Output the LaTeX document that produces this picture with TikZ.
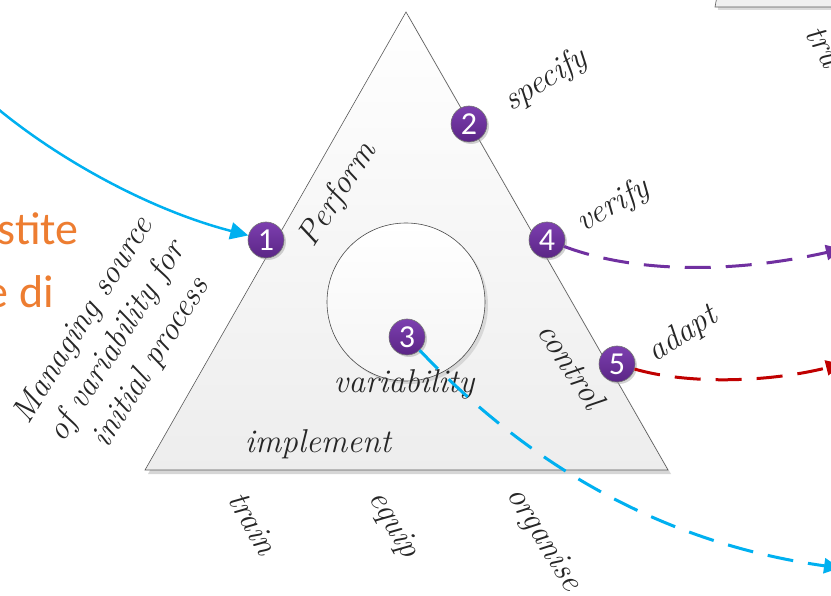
\documentclass[tikz,border=0pt]{standalone}
\usepackage{fontspec}
\newfontfamily\calfont{Carlito}
\usetikzlibrary{arrows.meta,shadows}
\definecolor{cblue}{HTML}{00B0F0}
\definecolor{cpurple}{HTML}{7030A0}
\definecolor{cred}{HTML}{C00000}
\definecolor{corange}{HTML}{ED7D31}
\definecolor{numtop}{HTML}{7D3FB0}
\definecolor{numbot}{HTML}{5A2585}
\begin{document}
\begin{tikzpicture}[x=1pt,y=-1pt,
  hand/.style={font=\fontsize{33}{40}\selectfont\itshape, inner sep=0pt, text=black!85},
  numbox/.style={circle, minimum size=36pt, inner sep=0pt, draw=black!55, line width=0.6pt,
     top color=numtop, bottom color=numbot, text=white,
     font=\calfont\fontsize{32}{32}\selectfont,
     drop shadow={shadow xshift=2pt, shadow yshift=-2pt, fill=black!35, opacity=0.5}},
  orange/.style={font=\calfont\fontsize{46}{46}\selectfont, text=corange, inner sep=0pt, anchor=base east},
  dashlink/.style={line width=3pt, dash pattern=on 26pt off 15pt, -{Triangle[length=16pt,width=15pt]}}
]
\useasboundingbox (0,0) rectangle (831,596);
\clip (0,0) rectangle (831,596);
% main triangle
\coordinate (apex) at (406,12);
\coordinate (br) at (668,470);
\coordinate (bl) at (145,470);
\fill[black!16] ([shift={(3,4)}]apex) -- ([shift={(3,4)}]br) -- ([shift={(3,4)}]bl) -- cycle;
\shadedraw[top color=white, bottom color=black!7, draw=black!65, line width=0.6pt] (apex) -- (br) -- (bl) -- cycle;
% top-right partial shape
\fill[black!14] (720,-20) -- (718,10) -- (840,10) -- (840,-20) -- cycle;
\filldraw[fill=black!6, draw=black!65, line width=0.6pt] (720,-20) -- (715,7) -- (840,7) -- (840,-20);
% inner circle
\node[circle, minimum size=158pt, inner sep=0pt, draw=black!70, line width=0.6pt,
      top color=white, bottom color=black!4,
      drop shadow={shadow xshift=3pt, shadow yshift=-3pt, fill=black!25, opacity=0.5}] (inner) at (406,302) {};
% labels
\node[hand, rotate=57] (perform) at (338,195) {Perform};
\node[hand, rotate=32] (specify) at (546,80) {specify};
\node[hand, rotate=30] (verify) at (613,206) {verify};
\node[hand, rotate=33] (adapt) at (683,335) {adapt};
\node[hand, rotate=-57] (control) at (572,365) {control};
\node[hand] (variability) at (404,384) {variability};
\node[hand] (implement) at (318,444) {implement};
\node[hand, rotate=-60] (train) at (253,523) {train};
\node[hand, rotate=-60] (equip) at (393,525) {equip};
\node[hand, rotate=-58] (organise) at (543,540) {organise};
\node[hand, rotate=58, align=center] (managing) at (118,342) {Managing source\\of variability for\\initial process};
\node[hand, rotate=-60] (tru) at (824,46) {tru};
\node[orange] (o1) at (79,245) {stite};
\node[orange] (o2) at (54,308) {e di};
% numbered markers
\node[numbox] (n1) at (266,240) {1};
\node[numbox] (n2) at (469,124) {2};
\node[numbox] (n3) at (407,337) {3};
\node[numbox] (n4) at (547,240) {4};
\node[numbox] (n5) at (617,364) {5};
% connectors
\coordinate (src) at (-2,109);
\coordinate (e3) at (840,568);
\coordinate (e4) at (842,249);
\coordinate (e5) at (842,364);
\draw[cblue, line width=2.5pt, -{Triangle[length=18pt,width=17pt]}] (src) .. controls (60,160) and (150,210) .. (n1);
\draw[cblue, dashlink] (n3) .. controls (510,445) and (640,540) .. (e3);
\draw[cpurple, dashlink] (n4) .. controls (640,275) and (740,272) .. (e4);
\draw[cred, dashlink] (n5) .. controls (690,385) and (770,382) .. (e5);
\end{tikzpicture}
\end{document}
